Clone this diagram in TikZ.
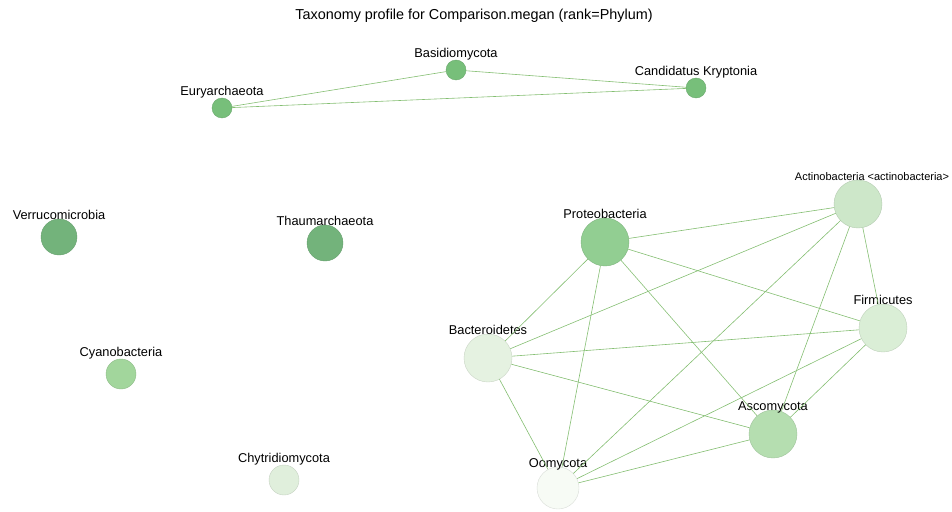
\documentclass[tikz,border=0pt]{standalone}
\usepackage{fontspec}
\setmainfont{Liberation Sans}
\usepackage{xcolor}
\usetikzlibrary{positioning}

\definecolor{midgreen}{HTML}{77BF7A}
\definecolor{darkgreen}{HTML}{73B37B}
\definecolor{cyanogreen}{HTML}{A2D69C}
\definecolor{chytgreen}{HTML}{E0EFDC}
\definecolor{proteogreen}{HTML}{92CE92}
\definecolor{actinogreen}{HTML}{CDE7C9}
\definecolor{firmgreen}{HTML}{DAEED6}
\definecolor{bactgreen}{HTML}{E5F2E1}
\definecolor{ascogreen}{HTML}{B5DEB0}
\definecolor{oomygreen}{HTML}{F7FBF5}
\definecolor{edgegreen}{HTML}{84BE72}

\begin{document}
\begin{tikzpicture}[x=1pt, y=-1pt,
  phylum/.style={circle, fill=#1, draw=#1!88!black, line width=0.4pt, inner sep=0pt},
  every label/.style={inner sep=1pt, font=\fontsize{12.8}{15}\selectfont},
  label distance=-2pt,
  small/.style={minimum size=20pt},
  edge/.style={draw=edgegreen, line width=0.6pt}]
  \useasboundingbox (0,0) rectangle (952,511);

  \node[font=\fontsize{14.4}{16}\selectfont] (title) at (474,16) {Taxonomy profile for Comparison.megan (rank=Phylum)};

  % archaea and fungi on top
  \node[phylum=midgreen, small, label=above:Basidiomycota] (basid) at (456,70) {};
  \node[phylum=midgreen, small, label=above:Candidatus Kryptonia] (kryp) at (696,88) {};
  \node[phylum=midgreen, small, label=above:Euryarchaeota] (eury) at (222,108) {};

  % unconnected ones
  \node[phylum=darkgreen, minimum size=36pt, label=above:Verrucomicrobia] (verru) at (59,237) {};
  \node[phylum=darkgreen, minimum size=36pt, label=above:Thaumarchaeota] (thaum) at (325,243) {};
  \node[phylum=cyanogreen, minimum size=30pt, label=above:Cyanobacteria] (cyano) at (121,374) {};
  \node[phylum=chytgreen, minimum size=30pt, label=above:Chytridiomycota] (chytr) at (284,480) {};

  % big cluster
  \node[phylum=proteogreen, minimum size=48pt, label=above:Proteobacteria] (proteo) at (605,242) {};
  \node[phylum=actinogreen, minimum size=48pt, label={[xshift=14pt, font=\fontsize{11}{13}\selectfont]above:Actinobacteria <actinobacteria>}] (actino) at (858,204) {};
  \node[phylum=firmgreen, minimum size=48pt, label=above:Firmicutes] (firm) at (883,328) {};
  \node[phylum=bactgreen, minimum size=48pt, label=above:Bacteroidetes] (bact) at (488,358) {};
  \node[phylum=ascogreen, minimum size=48pt, label={[label distance=-5pt]above:Ascomycota}] (asco) at (773,434) {};
  \node[phylum=oomygreen, minimum size=42pt, label={[label distance=-5pt]above:Oomycota}] (oomy) at (558,488) {};

  \draw[edge] (eury) -- (basid);
  \draw[edge] (eury) -- (kryp);
  \draw[edge] (basid) -- (kryp);

  \foreach \a/\b in {proteo/actino, proteo/firm, proteo/bact, proteo/oomy, proteo/asco,
                     actino/firm, actino/bact, actino/oomy, actino/asco,
                     firm/bact, firm/oomy, firm/asco,
                     bact/asco, bact/oomy, asco/oomy}
    \draw[edge] (\a) -- (\b);
\end{tikzpicture}
\end{document}
